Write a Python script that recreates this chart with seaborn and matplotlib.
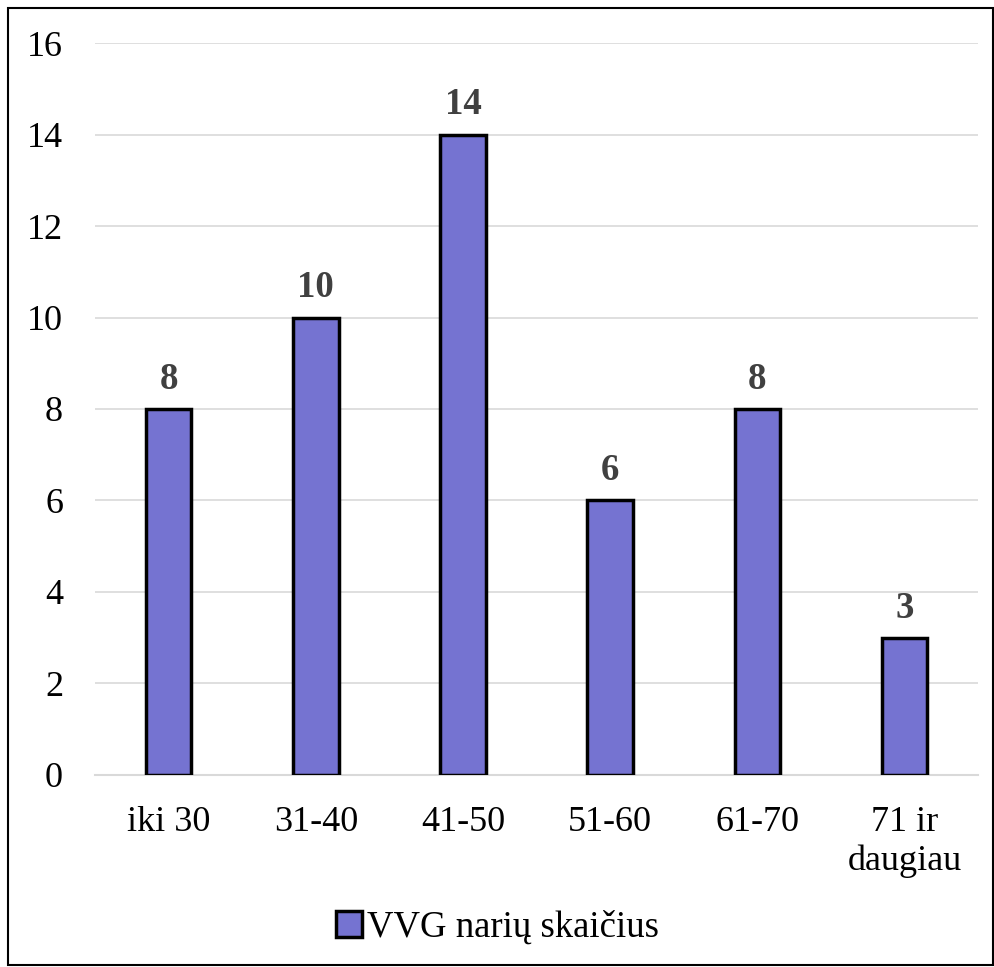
import matplotlib
matplotlib.use("Agg")
import matplotlib.pyplot as plt
import matplotlib.patches as mpatches
import seaborn as sns
import pandas as pd

categories = ["iki 30", "31-40", "41-50", "51-60", "61-70", "71 ir\ndaugiau"]
values = [8, 10, 14, 6, 8, 3]
series_name = "VVG narių skaičius"

sns.set_theme(style="white")
plt.rcParams['font.family'] = ['Liberation Serif', 'DejaVu Serif']
plt.rcParams['text.color'] = 'black'

df = pd.DataFrame({"group": categories, "count": values})

fig = plt.figure(figsize=(9.95, 9.67), dpi=100)
ax = fig.add_axes([0.0955, 0.1986, 0.8875, 0.7569])

bar_color = "#7573D1"
sns.barplot(data=df, x="group", y="count", color=bar_color, width=0.31,
            edgecolor="black", linewidth=2.5, saturation=1, ax=ax, zorder=3)

ax.set_ylim(0, 16)
ax.set_yticks(range(0, 17, 2))
ax.set_xlim(-0.5, len(categories) - 0.5)
ax.grid(axis="y", color="#d9d9d9", linewidth=1.2, zorder=0)
ax.set_xlabel("")
ax.set_ylabel("")
for s in ["top", "right", "left"]:
    ax.spines[s].set_visible(False)
ax.spines["bottom"].set_color("#d9d9d9")
ax.spines["bottom"].set_linewidth(1.5)
ax.tick_params(axis="both", length=0, labelsize=26, colors="black")
ax.tick_params(axis="x", pad=22)
ax.tick_params(axis="y", pad=23)
for lbl in ax.get_xticklabels():
    lbl.set_linespacing(1.25)

# value labels above bars
for i, v in enumerate(values):
    ax.text(i, v + 0.44, str(v), ha="center", va="baseline", fontsize=26.5,
            fontweight="bold", color="#404040")

handle = mpatches.Patch(facecolor=bar_color, edgecolor="black", linewidth=2.5)
fig.legend([handle], [series_name], loc="center", bbox_to_anchor=(0.5, 0.041),
           frameon=False, fontsize=26.5, handlelength=0.7, handleheight=0.7,
           handletextpad=0.15, labelcolor="black")

# outer frame around the chart
fig.patches.append(mpatches.Rectangle((0.008, 0.002), 0.99, 0.99, transform=fig.transFigure,
                                      fill=False, edgecolor="black", linewidth=1.5))

fig.savefig("out.png", dpi=100)
